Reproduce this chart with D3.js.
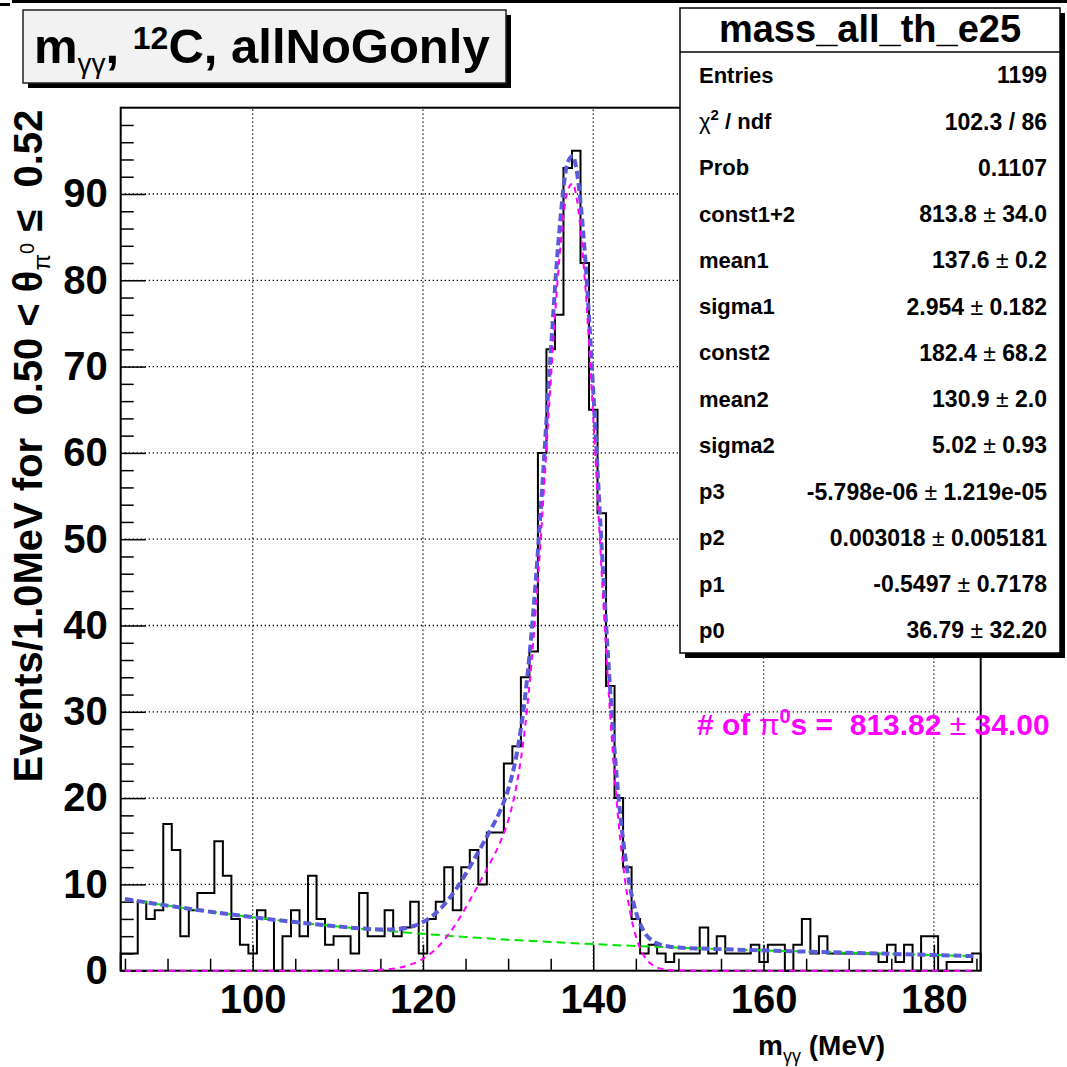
<!DOCTYPE html>
<html>
<head>
<meta charset="utf-8">
<title>mass_all_th_e25</title>
<style>
body { margin: 0; background: #fff; }
svg { display: block; font-family: "Liberation Sans", Arial, Helvetica, sans-serif; font-weight: bold; }
text { white-space: pre; }
</style>
<script src="https://d3js.org/d3.v7.min.js"></script>
</head>
<body>
<script>
// events per 1 MeV bin, bin centres 85 .. 185 MeV
var binCenters = d3.range(85, 186);
var counts = [2, 2, 8, 6, 7, 17, 14, 4, 7, 9,
              9, 15, 11, 6, 3, 2, 7, 6, 0, 4,
              7, 4, 11, 6, 3, 4, 4, 2, 9, 4,
              4, 7, 4, 5, 8, 2, 6, 8, 12, 7,
              12, 14, 10, 16, 16, 24, 26, 34, 37, 60,
              72, 76, 93, 95, 82, 65, 53, 33, 20, 12,
              6, 2, 3, 2, 1, 2, 2, 2, 5, 2,
              4, 2, 2, 2, 3, 1, 3, 3, 0, 3,
              6, 2, 4, 2, 2, 2, 2, 2, 2, 1,
              3, 1, 3, 0, 4, 4, 0, 1, 1, 1,
              2];

// background fit (green)
var bgX   = [85, 90, 95, 100, 105, 110, 115, 120, 125, 130, 135, 140, 145, 150, 155, 160, 165, 170, 175, 180, 185];
var bgFit = [8.31, 7.54, 6.84, 6.20, 5.63, 5.12, 4.67, 4.27, 3.91, 3.60, 3.32, 3.08, 2.86, 2.67, 2.50, 2.35, 2.21, 2.08, 1.95, 1.81, 1.68];

// signal fit (magenta)
var sigX   = [85, 100, 110, 112, 113, 114, 115, 116, 117, 118, 119, 120, 121, 122, 123, 124, 125, 126, 127, 128, 129,
              130, 131, 132, 133, 134, 135, 136, 137, 137.6, 138, 139, 140, 141, 142, 143, 144, 145, 146, 147, 148,
              149, 150, 155, 170, 185];
var sigFit = [0, 0, 0, 0.01, 0.03, 0.05, 0.10, 0.18, 0.31, 0.53, 0.87, 1.37, 2.07, 3.01, 4.20, 5.64, 7.28, 9.04, 10.86, 12.70, 14.73,
              17.38, 21.53, 28.30, 38.65, 52.56, 68.28, 82.29, 90.46, 91.22, 89.82, 80.17, 64.10, 45.89, 29.38, 16.83, 8.64,
              3.98, 1.65, 0.63, 0.22, 0.07, 0.02, 0, 0, 0];

// total fit (blue)
var totX   = [85, 90, 95, 100, 105, 110, 112, 113, 114, 115, 116, 117, 118, 119, 120, 121, 122, 123, 124, 125, 126,
              127, 128, 129, 130, 131, 132, 133, 134, 135, 136, 137, 137.6, 138, 139, 140, 141, 142, 143, 144, 145,
              146, 147, 148, 149, 150, 155, 160, 165, 170, 175, 180, 185];
var totFit = [8.31, 7.54, 6.84, 6.20, 5.63, 5.13, 4.95, 4.88, 4.81, 4.77, 4.77, 4.81, 4.95, 5.21, 5.64, 6.26, 7.13, 8.25, 9.62, 11.19, 12.89,
              14.64, 16.42, 18.39, 20.98, 25.07, 31.78, 42.08, 55.93, 71.60, 85.56, 93.68, 94.41, 92.99, 83.29, 67.18, 48.92, 32.37, 19.77, 11.54, 6.84,
              4.47, 3.41, 2.97, 2.78, 2.69, 2.50, 2.35, 2.21, 2.08, 1.95, 1.81, 1.68];

var xTicks = [100, 120, 140, 160, 180];
var xMinor = [85, 90, 95, 105, 110, 115, 125, 130, 135, 145, 150, 155, 165, 170, 175, 185];
var yTicks = [0, 10, 20, 30, 40, 50, 60, 70, 80, 90];
var yMinor = d3.range(2, 100, 2).filter(function(d) { return d % 10 != 0; });

var statTitle = "mass_all_th_e25";
var statLabels = ["Entries", "χ^2 / ndf", "Prob", "const1+2", "mean1", "sigma1", "const2",
                  "mean2", "sigma2", "p3", "p2", "p1", "p0"];
var statValues = ["1199", "102.3 / 86", "0.1107", "813.8 ± 34.0", "137.6 ± 0.2", "2.954 ± 0.182",
                  "182.4 ± 68.2", "130.9 ± 2.0", "5.02 ± 0.93", "-5.798e-06 ± 1.219e-05",
                  "0.003018 ± 0.005181", "-0.5497 ± 0.7178", "36.79 ± 32.20"];
var nPi0 = "813.82", nPi0Err = "34.00";

var W = 1067, H = 1067;
var frame = {left: 120.7, right: 980.7, top: 107.7, bottom: 970.7};

var x = d3.scaleLinear().domain([84.5, 185.5]).range([frame.left, frame.right]);
var y = d3.scaleLinear().domain([0, 100]).range([frame.bottom, frame.top]);

var svg = d3.select("body").append("svg")
    .attr("width", W)
    .attr("height", H);

svg.append("rect").attr("width", W).attr("height", H).attr("fill", "#fff");
// canvas edge
svg.append("rect").attr("x", 12).attr("y", 0).attr("width", W - 12).attr("height", 3).attr("fill", "#000");
svg.append("rect").attr("x", 0).attr("y", 3).attr("width", 10).attr("height", 3).attr("fill", "#000");

// grid
var grid = svg.append("g");
grid.selectAll("line.gx").data(xTicks).enter().append("line")
    .attr("x1", function(d) { return x(d); }).attr("x2", function(d) { return x(d); })
    .attr("y1", frame.bottom).attr("y2", frame.top);
grid.selectAll("line.gy").data(yTicks.filter(function(d) { return d > 0; })).enter().append("line")
    .attr("x1", frame.left).attr("x2", frame.right)
    .attr("y1", function(d) { return y(d); }).attr("y2", function(d) { return y(d); });
grid.selectAll("line")
    .attr("stroke", "#000")
    .attr("stroke-width", 1.3)
    .attr("stroke-dasharray", "1.3,2.7");

// frame
svg.append("rect")
    .attr("x", frame.left).attr("y", frame.top)
    .attr("width", frame.right - frame.left).attr("height", frame.bottom - frame.top)
    .attr("fill", "none").attr("stroke", "#000").attr("stroke-width", 2);

// axes (ROOT style: ticks inside the frame)
var axisFont = function(g) {
    g.attr("font-family", null).attr("font-size", 40).attr("font-weight", "bold");
    g.select(".domain").remove();
    g.selectAll("line").attr("stroke", "#000").attr("stroke-width", 1.5);
    g.selectAll("text").attr("fill", "#000");
};

svg.append("g")
    .attr("transform", "translate(0," + frame.bottom + ")")
    .call(d3.axisBottom(x).tickValues(xMinor).tickSize(-12).tickFormat(""))
    .call(axisFont);
svg.append("g")
    .attr("transform", "translate(0," + frame.bottom + ")")
    .call(d3.axisBottom(x).tickValues(xTicks).tickSize(-26).tickPadding(14).tickFormat(d3.format("d")))
    .call(axisFont);

svg.append("g")
    .attr("transform", "translate(" + frame.left + ",0)")
    .call(d3.axisLeft(y).tickValues(yMinor).tickSize(-13).tickFormat(""))
    .call(axisFont);
svg.append("g")
    .attr("transform", "translate(" + frame.left + ",0)")
    .call(d3.axisLeft(y).tickValues(yTicks).tickSize(-25).tickPadding(13).tickFormat(d3.format("d")))
    .call(axisFont);

// histogram outline
var pts = [[binCenters[0] - 0.5, 0]];
binCenters.forEach(function(c, i) {
    pts.push([c - 0.5, counts[i]]);
    pts.push([c + 0.5, counts[i]]);
});
pts.push([binCenters[binCenters.length - 1] + 0.5, 0]);

var line = d3.line()
    .x(function(d) { return x(d[0]); })
    .y(function(d) { return y(d[1]); });

svg.append("path")
    .attr("d", line(pts))
    .attr("fill", "none")
    .attr("stroke", "#000")
    .attr("stroke-width", 2);

// fit curves
var smooth = d3.line()
    .x(function(d) { return x(d[0]); })
    .y(function(d) { return y(d[1]); })
    .curve(d3.curveMonotoneX);

function zip(xs, ys) { return xs.map(function(v, i) { return [v, ys[i]]; }); }

svg.append("path")
    .attr("d", smooth(zip(bgX, bgFit)))
    .attr("fill", "none")
    .attr("stroke", "#00e600")
    .attr("stroke-width", 2)
    .attr("stroke-dasharray", "9,5");

svg.append("path")
    .attr("d", smooth(zip(totX, totFit)))
    .attr("fill", "none")
    .attr("stroke", "#5b5bd9")
    .attr("stroke-width", 4)
    .attr("stroke-dasharray", "8,4");

svg.append("path")
    .attr("d", smooth(zip(sigX, sigFit)))
    .attr("fill", "none")
    .attr("stroke", "#ff00ff")
    .attr("stroke-width", 2)
    .attr("stroke-dasharray", "6,5");

// axis titles
var yt = svg.append("text")
    .attr("transform", "translate(42," + (frame.top + 2) + ") rotate(-90)")
    .attr("text-anchor", "end")
    .attr("font-size", 40);
yt.append("tspan").text("Events/1.0MeV for  0.50 < θ");
yt.append("tspan").attr("font-size", 24).attr("font-weight", "normal").attr("dy", 8).text("π");
yt.append("tspan").attr("font-size", 20).attr("font-weight", "normal").attr("dy", -16).text("0");
yt.append("tspan").attr("dy", 8).text(" ≤  0.52");

var xt = svg.append("text")
    .attr("x", 885).attr("y", 1055)
    .attr("text-anchor", "end")
    .attr("font-size", 28);
xt.append("tspan").text("m");
xt.append("tspan").attr("font-size", 18).attr("font-weight", "normal").attr("dy", 7).text("γγ");
xt.append("tspan").attr("dy", -7).text(" (MeV)");

// title box
var tb = {x: 23, y: 10, w: 483, h: 73};
svg.append("rect").attr("x", tb.x + 5).attr("y", tb.y + 5).attr("width", tb.w).attr("height", tb.h).attr("fill", "#000");
svg.append("rect").attr("x", tb.x).attr("y", tb.y).attr("width", tb.w).attr("height", tb.h)
    .attr("fill", "#f2f2f2").attr("stroke", "#222").attr("stroke-width", 1.5);
var tt = svg.append("text").attr("x", 34).attr("y", 63).attr("font-size", 49);
tt.append("tspan").text("m");
tt.append("tspan").attr("font-size", 28).attr("font-weight", "normal").attr("dy", 10).text("γγ");
tt.append("tspan").attr("dy", -10).text(", ");
tt.append("tspan").attr("font-size", 32).attr("dy", -14).text("12");
tt.append("tspan").attr("dy", 14).text("C, allNoGonly");

// stats box
var sb = {x: 680, y: 8, w: 380, h: 645, head: 52};
svg.append("rect").attr("x", sb.x + 5).attr("y", sb.y + 5).attr("width", sb.w).attr("height", sb.h).attr("fill", "#000");
svg.append("rect").attr("x", sb.x).attr("y", sb.y).attr("width", sb.w).attr("height", sb.h)
    .attr("fill", "#fff").attr("stroke", "#000").attr("stroke-width", 1.5);
svg.append("line").attr("x1", sb.x).attr("x2", sb.x + sb.w).attr("y1", sb.head).attr("y2", sb.head)
    .attr("stroke", "#000").attr("stroke-width", 1.5);
svg.append("text")
    .attr("x", sb.x + sb.w / 2).attr("y", 42)
    .attr("text-anchor", "middle")
    .attr("font-size", 38)
    .text(statTitle);

var rowY = d3.scalePoint().domain(statLabels).range([75, 630]);

svg.selectAll("text.slabel").data(statLabels).enter().append("text")
    .attr("class", "slabel")
    .attr("x", 699)
    .attr("y", function(d) { return rowY(d); })
    .attr("dy", "0.36em")
    .attr("font-size", 22)
    .each(function(d) {
        var t = d3.select(this);
        var parts = d.split("^");
        if (parts.length == 1) { t.text(d); return; }
        t.append("tspan").attr("font-weight", "normal").text(parts[0]);
        t.append("tspan").attr("font-size", 15).attr("dy", -9).text(parts[1].charAt(0));
        t.append("tspan").attr("dy", 9).text(parts[1].slice(1));
    });

svg.selectAll("text.svalue").data(statValues).enter().append("text")
    .attr("class", "svalue")
    .attr("x", 1047)
    .attr("y", function(d, i) { return rowY(statLabels[i]); })
    .attr("dy", "0.36em")
    .attr("text-anchor", "end")
    .attr("font-size", 23)
    .each(function(d) {
        var t = d3.select(this);
        var parts = d.split(" ± ");
        t.append("tspan").text(parts[0]);
        if (parts.length > 1) {
            t.append("tspan").attr("font-weight", "normal").text(" ± ");
            t.append("tspan").text(parts[1]);
        }
    });

// number of pi0
var np = svg.append("text")
    .attr("x", 697).attr("y", 735)
    .attr("font-size", 30)
    .attr("fill", "#ff00ff");
np.append("tspan").text("# of ");
np.append("tspan").attr("font-weight", "normal").text("π");
np.append("tspan").attr("font-size", 20).attr("dy", -12).text("0");
np.append("tspan").attr("dy", 12).text("s =  " + nPi0);
np.append("tspan").attr("font-weight", "normal").text(" ± ");
np.append("tspan").text(nPi0Err);
</script>
</body>
</html>
